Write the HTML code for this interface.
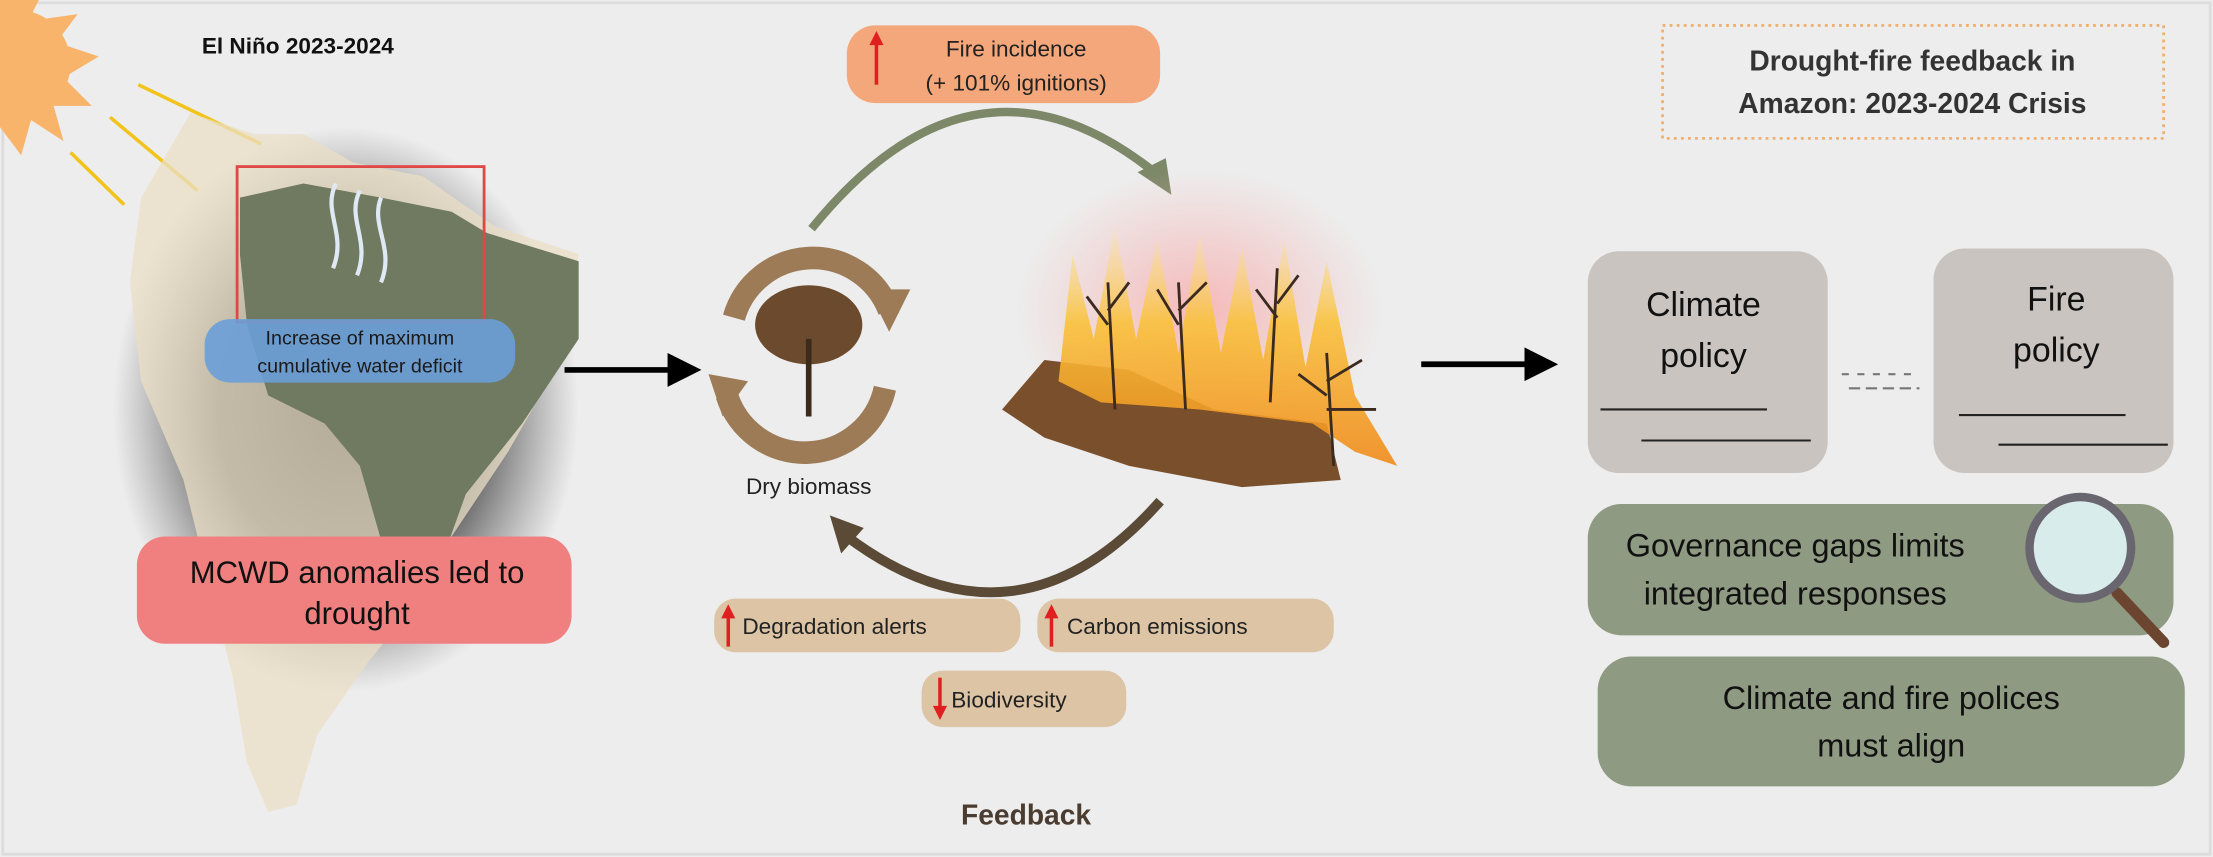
<!DOCTYPE html>
<html><head><meta charset="utf-8"><style>
html,body{margin:0;padding:0;background:#ededed;}
svg{display:block;}
text{font-family:"Liberation Sans",sans-serif;}
</style></head><body>
<svg width="2213" height="857" viewBox="0 0 1568 607" preserveAspectRatio="none" xmlns="http://www.w3.org/2000/svg">
<defs>
<radialGradient id="shadow" cx="0.5" cy="0.5" r="0.5">
<stop offset="0" stop-color="#151515" stop-opacity="1"/>
<stop offset="0.55" stop-color="#2a2a2a" stop-opacity="0.8"/>
<stop offset="1" stop-color="#555" stop-opacity="0"/>
</radialGradient>
<radialGradient id="fireglow" cx="0.5" cy="0.5" r="0.5">
<stop offset="0" stop-color="#f7b3b3" stop-opacity="0.9"/>
<stop offset="1" stop-color="#f7b3b3" stop-opacity="0"/>
</radialGradient>
<linearGradient id="flame" x1="0" y1="1" x2="0" y2="0">
<stop offset="0" stop-color="#f08a1a"/>
<stop offset="0.6" stop-color="#f9c23c"/>
<stop offset="1" stop-color="#fbe7a0" stop-opacity="0.3"/>
</linearGradient>
<marker id="ah" markerWidth="6" markerHeight="6" refX="3" refY="3" orient="auto"><path d="M0,0 L6,3 L0,6 Z" fill="#000"/></marker>
</defs>
<rect x="0" y="0" width="1568" height="607" fill="#ededed"/>
<rect x="2" y="2" width="1564" height="603" fill="none" stroke="#dcdcdc" stroke-width="2"/>

<!-- sun -->
<g fill="#f8b46a">
<circle cx="12" cy="45" r="38"/>
<path d="M0,0 L30,-5 L20,15 L55,10 L40,30 L70,40 L45,55 L65,75 L38,75 L45,100 L22,85 L15,110 L0,90 Z"/>
</g>
<g stroke="#f2c31a" stroke-width="2.5" fill="#f2c31a">
<line x1="98" y1="60" x2="185" y2="102"/><line x1="78" y1="83" x2="140" y2="135"/><line x1="50" y1="108" x2="88" y2="145"/>
</g>
<text x="143" y="38" font-size="16" font-weight="bold" fill="#111">El Niño 2023-2024</text>

<!-- map -->
<ellipse cx="245" cy="290" rx="165" ry="200" fill="url(#shadow)"/>
<path d="M135,80 L180,95 L215,95 L250,115 L300,125 L350,160 L410,180 L400,250 L360,320 L320,380 L300,420 L260,470 L225,520 L210,570 L190,575 L175,540 L165,480 L150,420 L130,340 L100,270 L92,200 L100,140 Z" fill="#e9dfc6" opacity="0.75"/>
<path d="M170,140 L215,130 L270,140 L320,150 L345,165 L410,185 L410,240 L370,300 L330,350 L305,420 L290,450 L275,400 L255,330 L230,300 L190,280 L175,230 L170,180 Z" fill="#6f7a60"/>
<rect x="168" y="118" width="175" height="110" fill="none" stroke="#e04848" stroke-width="2"/>
<g stroke="#dfe8f5" stroke-width="3" fill="none">
<path d="M238,130 C228,150 246,165 236,190"/><path d="M255,135 C245,155 263,170 253,195"/><path d="M270,140 C262,160 280,175 270,200"/>
</g>
<rect x="145" y="226" width="220" height="45" rx="18" fill="#6a9fd8" opacity="0.9"/>
<text x="255" y="244" font-size="14" text-anchor="middle" fill="#1a1a1a">Increase of maximum</text>
<text x="255" y="264" font-size="14" text-anchor="middle" fill="#1a1a1a">cumulative  water deficit</text>
<rect x="97" y="380" width="308" height="76" rx="20" fill="#f08080"/>
<text x="253" y="413" font-size="22" text-anchor="middle" fill="#111">MCWD anomalies led to</text>
<text x="253" y="442" font-size="22" text-anchor="middle" fill="#111">drought</text>

<line x1="400" y1="262" x2="485" y2="262" stroke="#000" stroke-width="4" marker-end="url(#ah)"/>

<!-- cycle arrows -->
<g fill="none" stroke="#9c7b56" stroke-width="16">
<path d="M520,225 A58,58 0 0 1 630,220"/>
<path d="M627,275 A58,58 0 0 1 515,280"/>
</g>
<path d="M615,205 L645,205 L630,235 Z" fill="#9c7b56"/>
<path d="M502,265 L530,270 L512,295 Z" fill="#9c7b56"/>
<ellipse cx="573" cy="230" rx="38" ry="28" fill="#6b4a2e"/>
<rect x="571" y="240" width="4" height="55" fill="#3c2a1a"/>
<text x="573" y="350" font-size="16" text-anchor="middle" fill="#222">Dry biomass</text>

<!-- top arc -->
<path d="M575,162 Q690,20 818,122" fill="none" stroke="#7d8869" stroke-width="6"/>
<path d="M806,122 L830,138 L826,112 Z" fill="#7d8869"/>
<rect x="600" y="18" width="222" height="55" rx="20" fill="#f4a77a"/>
<line x1="621" y1="60" x2="621" y2="28" stroke="#e02020" stroke-width="2.5"/><path d="M616,32 L621,22 L626,32 Z" fill="#e02020"/>
<text x="720" y="40" font-size="16" text-anchor="middle" fill="#222">Fire incidence</text>
<text x="720" y="64" font-size="16" text-anchor="middle" fill="#222">(+ 101% ignitions)</text>

<!-- fire -->
<ellipse cx="850" cy="220" rx="130" ry="100" fill="url(#fireglow)"/>
<path d="M710,290 L740,255 L800,262 L860,290 L940,300 L950,340 L880,345 L800,330 L740,310 Z" fill="#7a4f2c"/>
<path d="M750,270 L760,180 L775,240 L790,160 L805,240 L820,170 L835,250 L850,165 L865,250 L880,175 L895,255 L910,170 L925,260 L940,185 L960,280 L990,330 L960,320 L930,300 L850,290 L780,285 Z" fill="url(#flame)" opacity="0.9"/>
<g stroke="#3a2a20" stroke-width="2" fill="none">
<path d="M790,290 L785,200 M785,230 L770,210 M785,220 L800,200"/>
<path d="M840,290 L835,200 M835,230 L820,205 M835,220 L855,200"/>
<path d="M900,285 L905,190 M905,225 L890,205 M905,215 L920,195"/>
<path d="M945,330 L940,250 M940,280 L920,265 M940,270 L965,255 M940,290 L975,290"/>
</g>

<!-- bottom arc -->
<path d="M822,355 Q720,470 600,380" fill="none" stroke="#5a4a36" stroke-width="7"/>
<path d="M588,365 L612,374 L596,392 Z" fill="#5a4a36"/>
<g font-size="16" fill="#222">
<rect x="506" y="424" width="217" height="38" rx="15" fill="#dcc4a4"/>
<rect x="735" y="424" width="210" height="38" rx="15" fill="#dcc4a4"/>
<rect x="653" y="475" width="145" height="40" rx="15" fill="#dcc4a4"/>
<text x="526" y="449">Degradation alerts</text>
<text x="756" y="449">Carbon emissions</text>
<text x="674" y="501">Biodiversity</text>
</g>
<g stroke="#e02020" stroke-width="2.5" fill="#e02020">
<line x1="516" y1="458" x2="516" y2="436"/><path d="M511,438 L516,428 L521,438 Z" stroke="none"/>
<line x1="745" y1="458" x2="745" y2="436"/><path d="M740,438 L745,428 L750,438 Z" stroke="none"/>
<line x1="666" y1="480" x2="666" y2="502"/><path d="M661,500 L666,510 L671,500 Z" stroke="none"/>
</g>
<text x="727" y="584" font-size="20" font-weight="bold" text-anchor="middle" fill="#4a3c30">Feedback</text>

<!-- title box -->
<rect x="1178" y="18" width="355" height="80" fill="none" stroke="#f0b070" stroke-width="2" stroke-dasharray="2,3"/>
<text x="1355" y="50" font-size="20" font-weight="bold" text-anchor="middle" fill="#333">Drought-fire feedback in</text>
<text x="1355" y="80" font-size="20" font-weight="bold" text-anchor="middle" fill="#333">Amazon: 2023-2024 Crisis</text>

<line x1="1007" y1="258" x2="1092" y2="258" stroke="#000" stroke-width="4" marker-end="url(#ah)"/>

<!-- policy boxes -->
<rect x="1125" y="178" width="170" height="157" rx="22" fill="#c9c4bf"/>
<rect x="1370" y="176" width="170" height="159" rx="22" fill="#c9c4bf"/>
<g font-size="24" text-anchor="middle" fill="#111">
<text x="1207" y="224">Climate</text><text x="1207" y="260">policy</text>
<text x="1457" y="220">Fire</text><text x="1457" y="256">policy</text>
</g>
<g stroke="#222" stroke-width="1.5">
<line x1="1134" y1="290" x2="1252" y2="290"/><line x1="1163" y1="312" x2="1283" y2="312"/>
<line x1="1388" y1="294" x2="1506" y2="294"/><line x1="1416" y1="315" x2="1536" y2="315"/>
</g>
<g stroke="#777" stroke-width="1.5"><line x1="1305" y1="265" x2="1360" y2="265" stroke-dasharray="5,6"/><line x1="1310" y1="275" x2="1360" y2="275" stroke-dasharray="8,4"/></g>

<rect x="1125" y="357" width="415" height="93" rx="24" fill="#8f9a82"/>
<text x="1272" y="394" font-size="23" text-anchor="middle" fill="#111">Governance gaps limits</text>
<text x="1272" y="428" font-size="23" text-anchor="middle" fill="#111">integrated responses</text>
<rect x="1132" y="465" width="416" height="92" rx="24" fill="#8f9a82"/>
<text x="1340" y="502" font-size="23" text-anchor="middle" fill="#111">Climate and fire polices</text>
<text x="1340" y="536" font-size="23" text-anchor="middle" fill="#111">must align</text>

<!-- magnifier -->
<line x1="1500" y1="420" x2="1533" y2="455" stroke="#6b4530" stroke-width="8" stroke-linecap="round"/>
<circle cx="1474" cy="388" r="36" fill="#d8ecec" stroke="#6a6670" stroke-width="6"/>
</svg>
</body></html>
